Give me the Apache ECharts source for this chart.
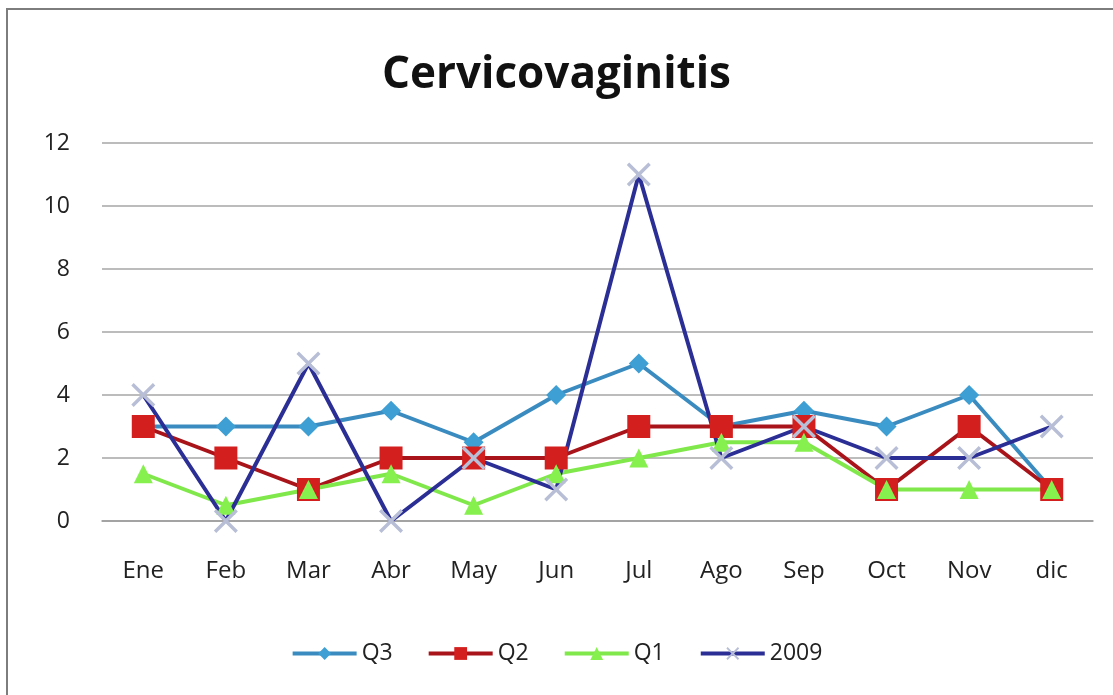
<!DOCTYPE html>
<html>
<head>
<meta charset="utf-8">
<title>Cervicovaginitis</title>
<script src="https://cdn.jsdelivr.net/npm/echarts@6/dist/echarts.min.js"></script>
<style>
  html, body { margin: 0; padding: 0; background: #fff; }
  #chart { width: 1113px; height: 695px; }
</style>
</head>
<body>
<div id="chart"></div>
<script>
// data
const months = ['Ene', 'Feb', 'Mar', 'Abr', 'May', 'Jun', 'Jul', 'Ago', 'Sep', 'Oct', 'Nov', 'dic']
const q3 = [3, 3, 3, 3.5, 2.5, 4, 5, 3, 3.5, 3, 4, 1]
const q2 = [3, 2, 1, 2, 2, 2, 3, 3, 3, 1, 3, 1]
const q1 = [1.5, 0.5, 1, 1.5, 0.5, 1.5, 2, 2.5, 2.5, 1, 1, 1]
const y2009 = [4, 0, 5, 0, 2, 1, 11, 2, 3, 2, 2, 3]
const yTicks = [0, 2, 4, 6, 8, 10, 12]

const font = '"Open Sans", "Liberation Sans", sans-serif'
const crossPath = 'path://M0,1 L1,0 L5,4 L9,0 L10,1 L6,5 L10,9 L9,10 L5,6 L1,10 L0,9 L4,5 Z'

const chart = echarts.init(document.getElementById('chart'))

function lineSeries (name, data, lineColor, symbol, size, markColor) {
  return {
    name,
    type: 'line',
    data,
    symbol,
    symbolSize: size,
    showAllSymbol: true,
    lineStyle: { color: lineColor, width: 4 },
    itemStyle: { color: markColor },
    emphasis: { disabled: true },
    animation: false
  }
}

chart.setOption({
  backgroundColor: '#fff',
  textStyle: { fontFamily: font },
  graphic: [{
    type: 'rect',
    shape: { x: 7, y: 9, width: 1130, height: 720 },
    style: { fill: 'none', stroke: '#7d7d7d', lineWidth: 2 },
    silent: true
  }],
  title: {
    text: 'Cervicovaginitis',
    left: 'center',
    top: 48,
    textStyle: { fontFamily: font, fontSize: 44, fontWeight: 'bold', color: '#111' }
  },
  legend: {
    bottom: 25,
    left: 'center',
    itemWidth: 64,
    itemHeight: 16,
    itemGap: 34,
    lineStyle: { width: 4 },
    textStyle: { fontFamily: font, fontSize: 23, color: '#222' },
    data: ['Q3', 'Q2', 'Q1', '2009']
  },
  grid: { left: 102, right: 20, top: 143, bottom: 174 },
  xAxis: {
    type: 'category',
    data: months,
    boundaryGap: true,
    axisLine: { lineStyle: { color: '#9a9a9a', width: 1.5 } },
    axisTick: { show: false },
    axisLabel: { margin: 38, fontFamily: font, fontSize: 24, color: '#222' }
  },
  yAxis: {
    type: 'value',
    min: yTicks[0],
    max: yTicks[yTicks.length - 1],
    interval: 2,
    axisLine: { show: false },
    axisTick: { show: false },
    axisLabel: { margin: 32, fontFamily: font, fontSize: 23, color: '#222' },
    splitLine: { lineStyle: { color: '#a6a6a6', width: 1.5 } }
  },
  series: [
    lineSeries('Q3', q3, '#3a8cc0', 'diamond', 20, '#3d9fd3'),
    lineSeries('Q2', q2, '#a8141a', 'rect', 23, '#d41f1f'),
    lineSeries('Q1', q1, '#80e84a', 'triangle', 19, '#86f04e'),
    lineSeries('2009', y2009, '#2a2e95', crossPath, 24, '#b7bed6')
  ]
})
</script>
</body>
</html>
